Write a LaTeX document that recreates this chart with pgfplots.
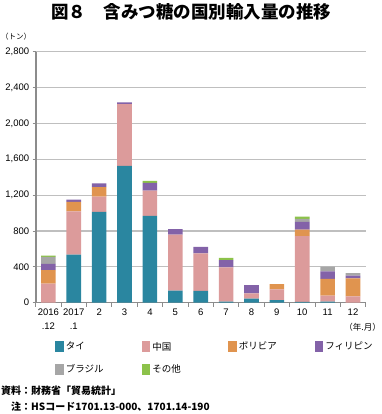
\documentclass[border=0pt]{standalone}
\usepackage{pgfplots}
\pgfplotsset{compat=1.18}
\usepackage{fontspec}
\setmainfont{Liberation Sans}
\newfontfamily\cjk{Noto Sans CJK JP}
\definecolor{cThai}{RGB}{42,134,160}
\definecolor{cChina}{RGB}{220,155,155}
\definecolor{cBol}{RGB}{224,148,79}
\definecolor{cPhi}{RGB}{131,98,168}
\definecolor{cBra}{RGB}{166,166,166}
\definecolor{cOth}{RGB}{140,194,74}
\definecolor{gridc}{RGB}{191,191,191}
\definecolor{axc}{RGB}{140,140,140}
\begin{document}
\begin{tikzpicture}[x=1pt,y=1pt]
\useasboundingbox (0,0) rectangle (381,414);
\node[font=\cjk\bfseries\fontsize{17.5}{20}\selectfont] at (191,402) {図８　含みつ糖の国別輸入量の推移};
\node[anchor=west,inner sep=0pt,font=\cjk\fontsize{7.5}{9}\selectfont] at (1,377) {（トン）};
\node[anchor=east,inner sep=0pt,font=\cjk\fontsize{8.5}{10}\selectfont] at (381,87) {（年.月）};
\node[anchor=west,inner sep=0pt,font=\cjk\bfseries\fontsize{10}{12}\selectfont] at (1,23) {資料：財務省「貿易統計」};
\node[anchor=west,inner sep=0pt,font=\cjk\bfseries\fontsize{10}{12}\selectfont] at (11,7) {注：HSコード1701.13-000、1701.14-190};
\begin{axis}[
  at={(35.7pt,111.3pt)}, anchor=south west,
  scale only axis, width=330pt, height=251pt,
  ybar stacked, bar width=14.6pt,
  xmin=-0.5, xmax=12.5, ymin=0, ymax=2800,
  xtick={0,1,2,3,4,5,6,7,8,9,10,11,12},
  xticklabels={{2016\\.12},{2017\\.1},2,3,4,5,6,7,8,9,10,11,12},
  x tick label style={align=center, font=\fontsize{9.5}{14}\selectfont},
  major x tick style={draw=none},
  minor xtick={-0.5,0.5,...,12.5},
  minor x tick style={draw=axc, line width=0.8pt},
  minor tick length=4pt,
  ytick={0,400,...,2800},
  y tick label style={font=\fontsize{9.5}{11}\selectfont},
  /pgf/number format/.cd, 1000 sep={,}, assume math mode=true, /pgfplots/.cd,
  major y tick style={draw=axc, line width=0.8pt},
  major tick length=3pt,
  tick align=outside,
  ymajorgrids, grid style={draw=gridc, line width=1.2pt},
  axis x line*=bottom, axis y line*=left,
  x axis line style={draw=axc, line width=1.2pt, -},
  y axis line style={draw=axc, line width=1.8pt, -},
  legend style={font=\cjk\fontsize{9.5}{11}\selectfont, draw=none, fill=none,
    at={(0.05,-0.14)}, anchor=north west, legend columns=4,
    row sep=9pt, cells={anchor=west}},
  swatch/.style={legend image code/.code={\fill[##1] (0pt,-5.5pt) rectangle (8.5pt,5.5pt);}},
]
\addplot[fill=cThai, draw=none, swatch] coordinates {(0,0) (1,537) (2,1013) (3,1525) (4,968) (5,135) (6,133) (7,12) (8,45) (9,30) (10,10) (11,11) (12,0)};
\addplot[fill=cChina, draw=none, swatch] coordinates {(0,213) (1,483) (2,171) (3,690) (4,282) (5,625) (6,416) (7,381) (8,60) (9,120) (10,732) (11,69) (12,70)};
\addplot[fill=cBol, draw=none, swatch] coordinates {(0,150) (1,104) (2,104) (3,0) (4,0) (5,0) (6,0) (7,0) (8,0) (9,56) (10,74) (11,186) (12,200)};
\addplot[fill=cPhi, draw=none, swatch] coordinates {(0,71) (1,26) (2,44) (3,19) (4,86) (5,60) (6,74) (7,81) (8,90) (9,0) (10,85) (11,84) (12,33)};
\addplot[fill=cBra, draw=none, swatch] coordinates {(0,78) (1,0) (2,0) (3,0) (4,0) (5,0) (6,0) (7,0) (8,0) (9,0) (10,34) (11,53) (12,28)};
\addplot[fill=cOth, draw=none, swatch] coordinates {(0,12) (1,0) (2,0) (3,0) (4,22) (5,0) (6,0) (7,26) (8,0) (9,0) (10,26) (11,0) (12,0)};
\legend{\makebox[74pt][l]{タイ},\makebox[74pt][l]{中国},\makebox[74pt][l]{ボリビア},\makebox[74pt][l]{フィリピン},\makebox[74pt][l]{ブラジル},\makebox[74pt][l]{その他}}
\end{axis}
\end{tikzpicture}
\end{document}
